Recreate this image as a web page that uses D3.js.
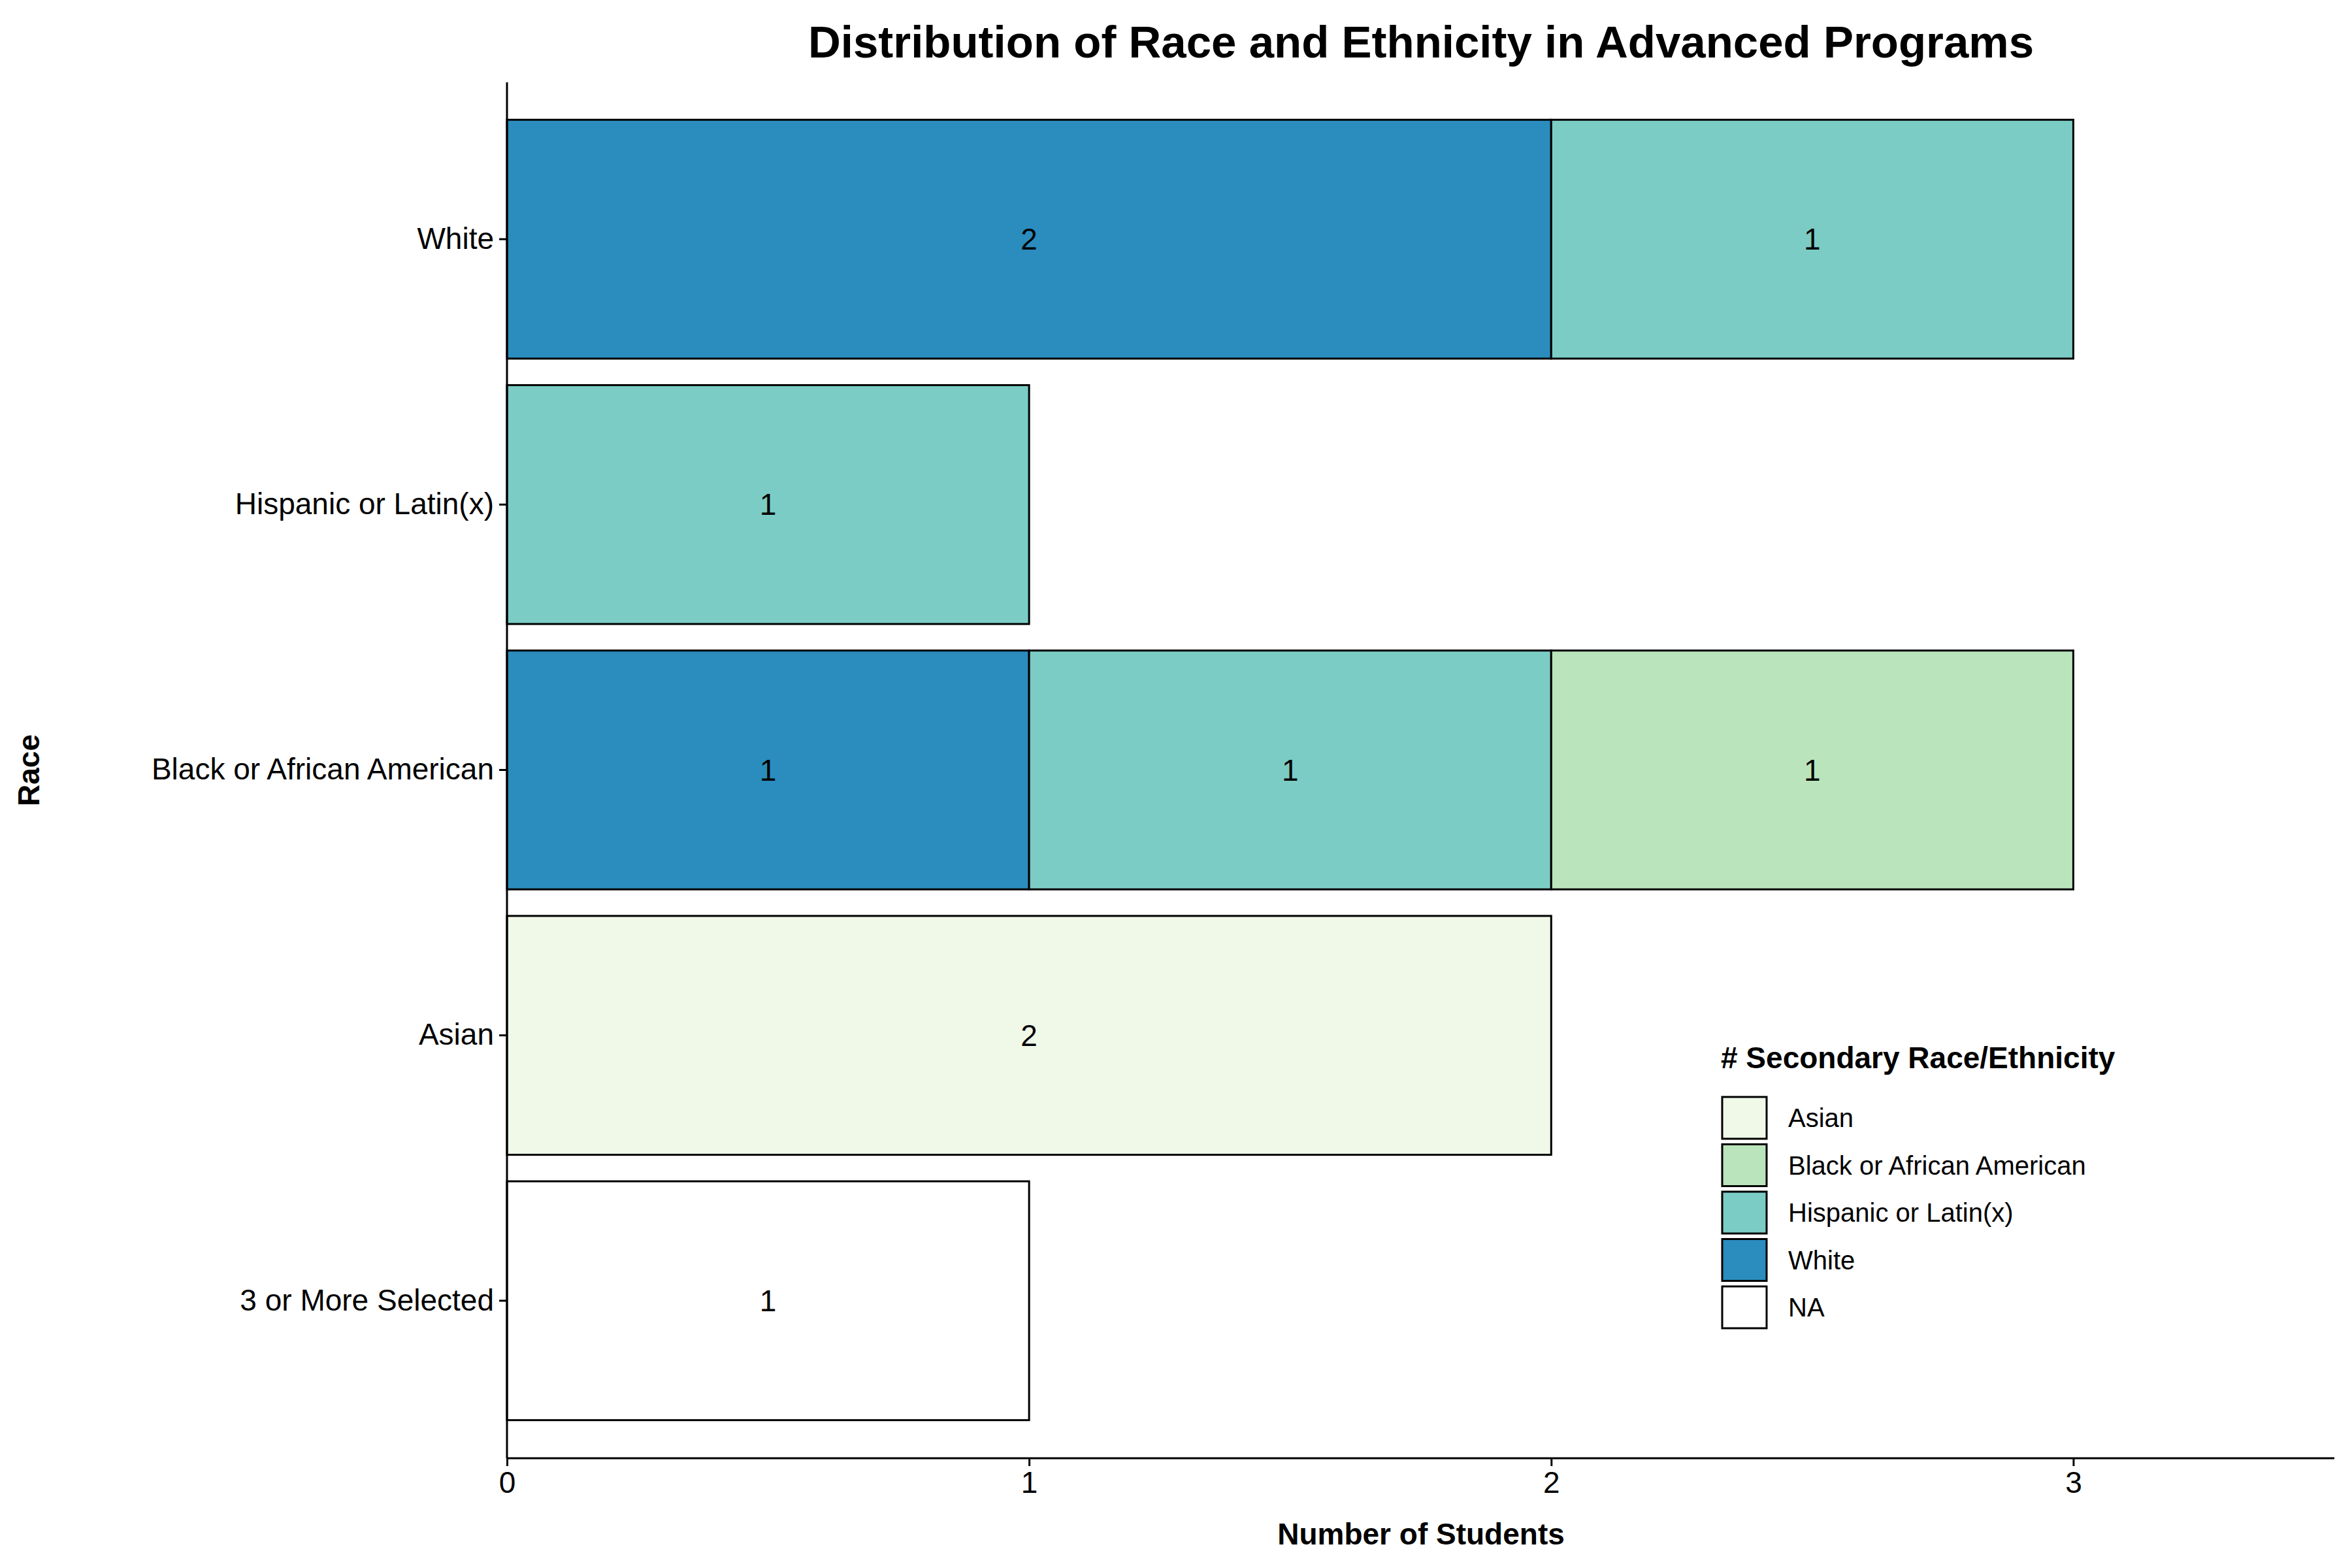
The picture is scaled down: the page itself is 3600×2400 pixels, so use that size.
<!DOCTYPE html>
<html><head><meta charset="utf-8">
<script src="https://cdn.jsdelivr.net/npm/d3@7"></script>
<style>body{margin:0;background:#fff}text{font-family:"Liberation Sans",Arial,sans-serif}</style>
</head><body>
<script>
// primary race rows, top to bottom
var races = ["White", "Hispanic or Latin(x)", "Black or African American", "Asian", "3 or More Selected"]
// secondary race series, in stacking order left to right
var secondary = ["White", "Hispanic or Latin(x)", "Black or African American", "Asian", "NA"]
var whiteVals    = [2, 0, 1, 0, 0]
var hispanicVals = [1, 1, 1, 0, 0]
var blackVals    = [0, 0, 1, 0, 0]
var asianVals    = [0, 0, 0, 2, 0]
var naVals       = [0, 0, 0, 0, 1]
var legendOrder = ["Asian", "Black or African American", "Hispanic or Latin(x)", "White", "NA"]
var colors = {"Asian": "#f0f9e8", "Black or African American": "#bae4bc",
  "Hispanic or Latin(x)": "#7bccc4", "White": "#2b8cbe", "NA": "#ffffff"}
var xTicks = [0, 1, 2, 3]

var valsBySeries = [whiteVals, hispanicVals, blackVals, asianVals, naVals]
var rows = races.map(function(r, i) {
  var o = {race: r}
  secondary.forEach(function(s, j) { o[s] = valsBySeries[j][i] })
  return o
})
var stacked = d3.stack().keys(secondary)(rows)

var svg = d3.select("body").append("svg").attr("width", 3600).attr("height", 2400)
var x = d3.scaleLinear().domain([0, 3.5]).range([776, 3573])
var y = d3.scaleBand().domain(races).range([163, 2194]).paddingInner(0.1).paddingOuter(0.05)

stacked.forEach(function(layer) {
  layer.forEach(function(d, i) {
    if (d[1] - d[0] <= 0) return
    svg.append("rect")
      .attr("x", x(d[0])).attr("y", y(races[i]))
      .attr("width", x(d[1]) - x(d[0])).attr("height", y.bandwidth())
      .attr("fill", colors[layer.key]).attr("stroke", "#000").attr("stroke-width", 3)
    svg.append("text")
      .attr("x", (x(d[0]) + x(d[1])) / 2).attr("y", y(races[i]) + y.bandwidth() / 2)
      .attr("text-anchor", "middle").attr("dominant-baseline", "central")
      .attr("font-size", 46).text(d[1] - d[0])
  })
})

var xa = svg.append("g").attr("transform", "translate(0,2232)")
  .call(d3.axisBottom(x).tickValues(xTicks).tickSize(12).tickPadding(8).tickFormat(d3.format("d")))
var ya = svg.append("g").attr("transform", "translate(776,0)")
  .call(d3.axisLeft(y).tickSize(12).tickPadding(8))
ya.select(".domain").attr("d", "M0,126V2232")
xa.select(".domain").attr("d", "M776,0H3573")
svg.selectAll(".domain, .tick line").attr("stroke", "#000").attr("stroke-width", 3)
svg.selectAll(".tick text").attr("font-size", 46).attr("fill", "#000")
  .attr("font-family", "Liberation Sans, Arial, sans-serif")

svg.append("text").attr("x", 2175).attr("y", 88).attr("text-anchor", "middle")
  .attr("font-size", 69).attr("font-weight", "bold").text("Distribution of Race and Ethnicity in Advanced Programs")
svg.append("text").attr("x", 2175).attr("y", 2364).attr("text-anchor", "middle")
  .attr("font-size", 46).attr("font-weight", "bold").text("Number of Students")
svg.append("text").attr("transform", "translate(60,1179) rotate(-90)").attr("text-anchor", "middle")
  .attr("font-size", 46).attr("font-weight", "bold").text("Race")

var lg = svg.append("g")
lg.append("text").attr("x", 2634).attr("y", 1635).attr("font-size", 46).attr("font-weight", "bold")
  .text("# Secondary Race/Ethnicity")
legendOrder.forEach(function(k, i) {
  var cy = 1711 + i * 72.5
  lg.append("rect").attr("x", 2636).attr("y", cy - 32).attr("width", 68).attr("height", 64)
    .attr("fill", colors[k]).attr("stroke", "#000").attr("stroke-width", 3)
  lg.append("text").attr("x", 2737).attr("y", cy).attr("dominant-baseline", "central")
    .attr("font-size", 40).text(k)
})
</script>
</body></html>
